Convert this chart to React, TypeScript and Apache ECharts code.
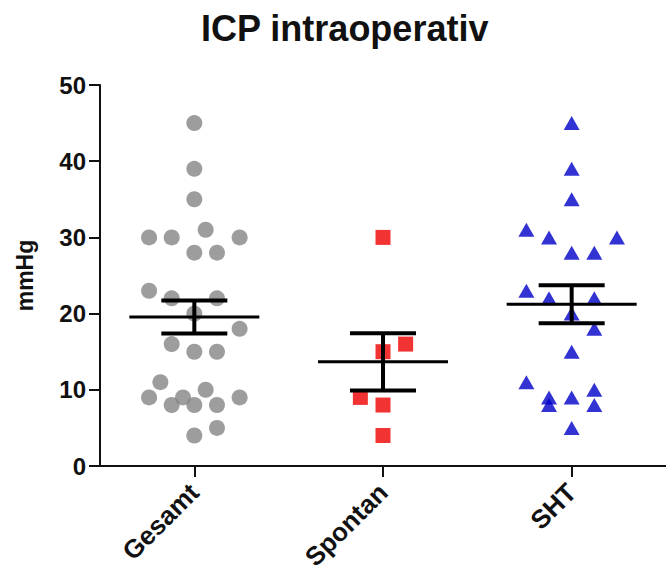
import React, { useEffect, useRef } from "react";
import * as echarts from "echarts";

// Column scatter: ICP values per group with mean ± SEM
const groups = ["Gesamt", "Spontan", "SHT"];
const yTicks = [0, 10, 20, 30, 40, 50];

const gesamtValues = [45, 39, 35, 30, 30, 31, 30, 28, 28, 23, 22, 22, 20, 18, 16, 15, 15, 11, 10, 9, 9, 9, 8, 8, 8, 5, 4];
const gesamtSpread = [0, 0, 0, -4, -2, 1, 4, 0, 2, -4, -2, 2, 0, 4, -2, 0, 2, -3, 1, -4, -1, 4, -2, 0, 2, 2, 0];

const spontanValues = [30, 16, 15, 9, 8, 4];
const spontanSpread = [0, 2, 0, -2, 0, 0];

const shtValues = [45, 39, 35, 31, 30, 30, 28, 28, 23, 22, 22, 20, 18, 15, 11, 9, 8, 9, 10, 8, 5];
const shtSpread = [0, 0, 0, -4, -2, 4, 0, 2, -4, -2, 2, 0, 2, 0, -4, -2, -2, 0, 2, 2, 0];

const SPREAD_STEP = 0.06;
const FONT = "'Liberation Sans', Arial, Helvetica, sans-serif";

function toPoints(groupIndex: number, values: number[], spread: number[]) {
  return values.map((v, i) => [groupIndex + 1 + spread[i] * SPREAD_STEP, v]);
}

function meanSem(values: number[]) {
  const n = values.length;
  const mean = values.reduce((a, b) => a + b, 0) / n;
  const variance = values.reduce((a, b) => a + (b - mean) * (b - mean), 0) / (n - 1);
  const sem = Math.sqrt(variance) / Math.sqrt(n);
  return { mean, sem };
}

const allGroups = [gesamtValues, spontanValues, shtValues];
const summaryData = allGroups.map((vals, i) => {
  const { mean, sem } = meanSem(vals);
  return [i + 1, mean, mean - sem, mean + sem];
});

export default function App() {
  const ref = useRef<HTMLDivElement>(null);

  useEffect(() => {
    if (!ref.current) return;
    const chart = echarts.init(ref.current, null, { renderer: "svg" });
    chart.setOption({
      animation: false,
      backgroundColor: "#ffffff",
      title: {
        text: "ICP intraoperativ",
        left: 196,
        top: 5,
        textStyle: { fontSize: 36, fontWeight: "bold", color: "#111", fontFamily: FONT },
      },
      grid: { left: 100, right: -5.5, top: 85, bottom: 119, containLabel: false },
      xAxis: {
        type: "value",
        min: 0.5,
        max: 3.5,
        splitLine: { show: false },
        axisLine: { show: true, onZero: false, lineStyle: { color: "#111", width: 2 } },
        axisTick: { show: true, length: 11, customValues: [1, 2, 3], lineStyle: { color: "#111", width: 2 } },
        axisLabel: {
          customValues: [1, 2, 3],
          rotate: 45,
          margin: 22,
          formatter: (v: number) => groups[Math.round(v) - 1] ?? "",
          fontSize: 26,
          fontWeight: "bold",
          color: "#111",
          fontFamily: FONT,
        },
      },
      yAxis: {
        type: "value",
        min: 0,
        max: 50,
        interval: 10,
        name: "mmHg",
        nameLocation: "middle",
        nameGap: 64,
        nameRotate: 90,
        nameTextStyle: { fontSize: 23, fontWeight: "bold", color: "#111", fontFamily: FONT },
        splitLine: { show: false },
        axisLine: { show: true, lineStyle: { color: "#111", width: 2 } },
        axisTick: { show: true, length: 11, lineStyle: { color: "#111", width: 2 } },
        axisLabel: {
          margin: 14,
          fontSize: 24,
          fontWeight: "bold",
          color: "#111",
          fontFamily: FONT,
          formatter: (v: number) => (yTicks.includes(v) ? String(v) : ""),
        },
      },
      series: [
        {
          name: groups[0],
          type: "scatter",
          data: toPoints(0, gesamtValues, gesamtSpread),
          symbol: "circle",
          symbolSize: 16,
          itemStyle: { color: "#858585" },
          z: 2,
        },
        {
          name: groups[1],
          type: "scatter",
          data: toPoints(1, spontanValues, spontanSpread),
          symbol: "rect",
          symbolSize: 15,
          itemStyle: { color: "#ee0000" },
          z: 2,
        },
        {
          name: groups[2],
          type: "scatter",
          data: toPoints(2, shtValues, shtSpread),
          symbol: "triangle",
          symbolSize: [16, 14],
          itemStyle: { color: "#0000c8" },
          z: 2,
        },
        {
          type: "custom",
          data: summaryData,
          z: 5,
          renderItem: (params: any, api: any) => {
            const x = api.value(0);
            const c = api.coord([x, api.value(1)]);
            const lo = api.coord([x, api.value(2)]);
            const hi = api.coord([x, api.value(3)]);
            const stroke = { stroke: "#000", lineWidth: 4 };
            return {
              type: "group",
              children: [
                { type: "line", shape: { x1: c[0] - 65, y1: c[1], x2: c[0] + 65, y2: c[1] }, style: { stroke: "#000", lineWidth: 3 } },
                { type: "line", shape: { x1: c[0], y1: hi[1], x2: c[0], y2: lo[1] }, style: stroke },
                { type: "line", shape: { x1: c[0] - 33, y1: hi[1], x2: c[0] + 33, y2: hi[1] }, style: stroke },
                { type: "line", shape: { x1: c[0] - 33, y1: lo[1], x2: c[0] + 33, y2: lo[1] }, style: stroke },
              ],
            };
          },
        },
      ],
    });
    return () => chart.dispose();
  }, []);

  return (
    <div
      ref={ref}
      style={{ position: "fixed", left: 0, top: 0, width: 666, height: 585, background: "#fff" }}
    />
  );
}
